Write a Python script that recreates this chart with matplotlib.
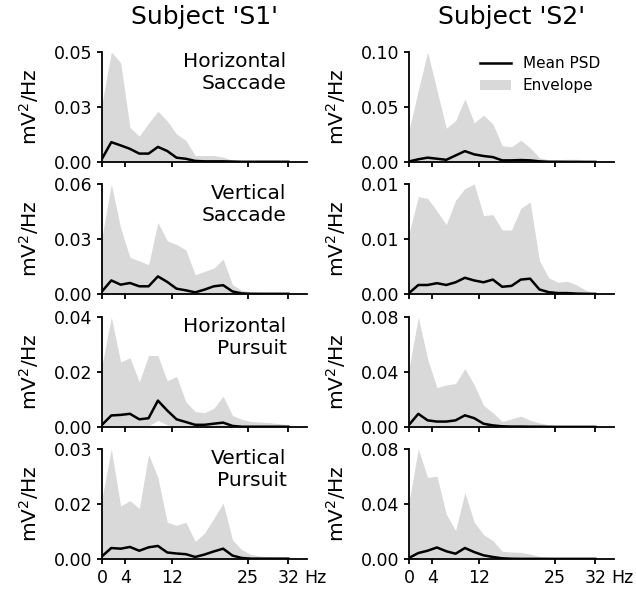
import numpy as np
import matplotlib
matplotlib.use("Agg")
import matplotlib.pyplot as plt

# frequency bins (Hz)
freqs = np.arange(21) * 1.6

subjects = ["S1", "S2"]
conditions = ["Horizontal\nSaccade", "Vertical\nSaccade", "Horizontal\nPursuit", "Vertical\nPursuit"]

# Subject S1
s1_hs_mean = [0.0015, 0.0092, 0.0077, 0.0061, 0.0039, 0.0039, 0.0070, 0.0051, 0.0020, 0.0015, 0.0005,
              0.0003, 0.0003, 0.0003, 0.0002, 0.0001, 0.0001, 0.0001, 0.0001, 0.0001, 0.0001]
s1_hs_hi = [0.027, 0.051, 0.046, 0.016, 0.012, 0.018, 0.0235, 0.019, 0.013, 0.010, 0.003,
            0.003, 0.003, 0.0023, 0.0008, 0.0006, 0.0005, 0.0004, 0.0004, 0.0003, 0.0003]
s1_hs_lo = [0.0] * 21

s1_vs_mean = [0.0014, 0.0074, 0.0051, 0.0060, 0.0042, 0.0042, 0.0096, 0.0066, 0.0029, 0.0020, 0.0009,
              0.0024, 0.0042, 0.0048, 0.0014, 0.0003, 0.0001, 0.0001, 0.0001, 0.0001, 0.0001]
s1_vs_hi = [0.031, 0.060, 0.036, 0.020, 0.018, 0.016, 0.039, 0.029, 0.027, 0.024, 0.0105,
            0.0123, 0.0141, 0.019, 0.0051, 0.0020, 0.0012, 0.0009, 0.0006, 0.0005, 0.0003]
s1_vs_lo = [0.0] * 21

s1_hp_mean = [0.0008, 0.0042, 0.0044, 0.0048, 0.0028, 0.0032, 0.0096, 0.0060, 0.0028, 0.0018, 0.0008,
              0.0008, 0.0012, 0.0016, 0.0004, 0.0001, 0.0001, 0.0001, 0.0001, 0.0001, 0.0001]
s1_hp_hi = [0.0224, 0.040, 0.0236, 0.0252, 0.0164, 0.026, 0.026, 0.0168, 0.0184, 0.0092, 0.0056,
            0.0052, 0.0068, 0.0112, 0.0042, 0.0028, 0.0020, 0.0018, 0.0016, 0.0012, 0.0008]
s1_hp_lo = [0.0, 0.0, 0.0, 0.0, 0.0, 0.0004, 0.0024, 0.0008, 0.0, 0.0, 0.0,
            0.0, 0.0, 0.0, 0.0, 0.0, 0.0, 0.0, 0.0, 0.0, 0.0]

s1_vp_mean = [0.0008, 0.0032, 0.0030, 0.0035, 0.0024, 0.0034, 0.0038, 0.0019, 0.0016, 0.0014, 0.0006,
              0.0013, 0.0022, 0.0030, 0.0010, 0.0003, 0.0001, 0.0001, 0.0001, 0.0001, 0.0001]
s1_vp_hi = [0.0176, 0.032, 0.0154, 0.017, 0.0147, 0.0304, 0.0237, 0.0107, 0.0098, 0.0107, 0.0051,
            0.0075, 0.0118, 0.0163, 0.0056, 0.0027, 0.0013, 0.0008, 0.0006, 0.0005, 0.0003]
s1_vp_lo = [0.0] * 21

# Subject S2
s2_hs_mean = [0.0005, 0.0025, 0.0040, 0.0030, 0.0020, 0.0060, 0.0100, 0.0070, 0.0055, 0.0045, 0.0015,
              0.0015, 0.0018, 0.0015, 0.0006, 0.0002, 0.0002, 0.0001, 0.0001, 0.0001, 0.0001]
s2_hs_hi = [0.029, 0.066, 0.101, 0.066, 0.031, 0.038, 0.058, 0.036, 0.043, 0.035, 0.015,
            0.014, 0.020, 0.013, 0.004, 0.002, 0.002, 0.0025, 0.0025, 0.001, 0.0005]
s2_hs_lo = [0.0] * 21

s2_vs_mean = [0.0001, 0.0010, 0.0010, 0.0012, 0.0010, 0.0013, 0.0018, 0.0015, 0.0013, 0.0016, 0.0008,
              0.0009, 0.0016, 0.0017, 0.0005, 0.0002, 0.0001, 0.0001, 0.00004, 0.00002, 0.00001]
s2_vs_hi = [0.0067, 0.0108, 0.0106, 0.0092, 0.0077, 0.0104, 0.0117, 0.0122, 0.0087, 0.0088, 0.0071,
            0.0071, 0.0095, 0.0102, 0.0037, 0.0018, 0.0013, 0.0014, 0.0010, 0.0004, 0.0001]
s2_vs_lo = [0.0] * 21

s2_hp_mean = [0.0016, 0.0097, 0.0049, 0.0040, 0.0040, 0.0049, 0.0086, 0.0065, 0.0024, 0.0012, 0.0005,
              0.0003, 0.0003, 0.0002, 0.0002, 0.0001, 0.0001, 0.0001, 0.0001, 0.0001, 0.0001]
s2_hp_hi = [0.043, 0.081, 0.050, 0.029, 0.031, 0.032, 0.043, 0.031, 0.016, 0.0105, 0.004,
            0.006, 0.008, 0.005, 0.003, 0.0016, 0.0008, 0.0005, 0.0004, 0.0003, 0.0002]
s2_hp_lo = [0.0] * 21

s2_vp_mean = [0.0008, 0.0044, 0.0061, 0.0085, 0.0057, 0.0039, 0.0081, 0.0051, 0.0027, 0.0015, 0.0005,
              0.0002, 0.0001, 0.0001, 0.0001, 0.0001, 0.0001, 0.0001, 0.0001, 0.0001, 0.0001]
s2_vp_hi = [0.042, 0.081, 0.060, 0.061, 0.033, 0.021, 0.049, 0.027, 0.018, 0.0135, 0.0057,
            0.0051, 0.0049, 0.0036, 0.0019, 0.0012, 0.0008, 0.0006, 0.0005, 0.0004, 0.0003]
s2_vp_lo = [0.0] * 21

panels = {
    ("S1", 0): (s1_hs_mean, s1_hs_lo, s1_hs_hi),
    ("S1", 1): (s1_vs_mean, s1_vs_lo, s1_vs_hi),
    ("S1", 2): (s1_hp_mean, s1_hp_lo, s1_hp_hi),
    ("S1", 3): (s1_vp_mean, s1_vp_lo, s1_vp_hi),
    ("S2", 0): (s2_hs_mean, s2_hs_lo, s2_hs_hi),
    ("S2", 1): (s2_vs_mean, s2_vs_lo, s2_vs_hi),
    ("S2", 2): (s2_hp_mean, s2_hp_lo, s2_hp_hi),
    ("S2", 3): (s2_vp_mean, s2_vp_lo, s2_vp_hi),
}

xticks = [0, 4, 12, 25, 32]

fig = plt.figure(figsize=(6.36, 5.94), dpi=100)
W, H = 636, 594
col_left = [102, 409]
col_width = 205
row_top = [52, 184, 317, 449]
row_h = 110

for c, subj in enumerate(subjects):
    for r in range(4):
        ax = fig.add_axes([col_left[c] / W, 1 - (row_top[r] + row_h) / H, col_width / W, row_h / H])
        mean, lo, hi = panels[(subj, r)]
        ax.fill_between(freqs, lo, hi, color="#d9d9d9", linewidth=0, label="Envelope")
        ax.plot(freqs, mean, color="black", linewidth=1.8, label="Mean PSD")
        top = max(hi)
        ax.set_ylim(0, top)
        ax.set_xlim(0, 35.2)
        ax.set_yticks(np.linspace(0, top, 3))
        ax.yaxis.set_major_formatter(plt.FormatStrFormatter("%.2f"))
        ax.set_xticks(xticks)
        ax.spines["top"].set_visible(False)
        ax.spines["right"].set_visible(False)
        for s in ("left", "bottom"):
            ax.spines[s].set_linewidth(1.3)
        ax.tick_params(width=1.3, labelsize=12.5)
        ax.set_ylabel("mV$^2$/Hz", fontsize=14.5, labelpad=9)
        if r == 3:
            ax.annotate("Hz", xy=(1, 0), xycoords="axes fraction", xytext=(-2, -7),
                        textcoords="offset points", ha="left", va="top", fontsize=12.5)
        else:
            ax.set_xticklabels([])
        if c == 0:
            ax.text(0.9, 1.0, conditions[r], transform=ax.transAxes, ha="right", va="top",
                    fontsize=14.5, multialignment="right")
        if r == 0:
            ax.set_title(f"Subject '{subj}'", fontsize=18, pad=20)
        if c == 1 and r == 0:
            handles, labels = ax.get_legend_handles_labels()
            ax.legend(handles[::-1], labels[::-1], frameon=False, fontsize=11, loc="upper right",
                      bbox_to_anchor=(1.0, 1.09))

fig.savefig("out.png", dpi=100)
